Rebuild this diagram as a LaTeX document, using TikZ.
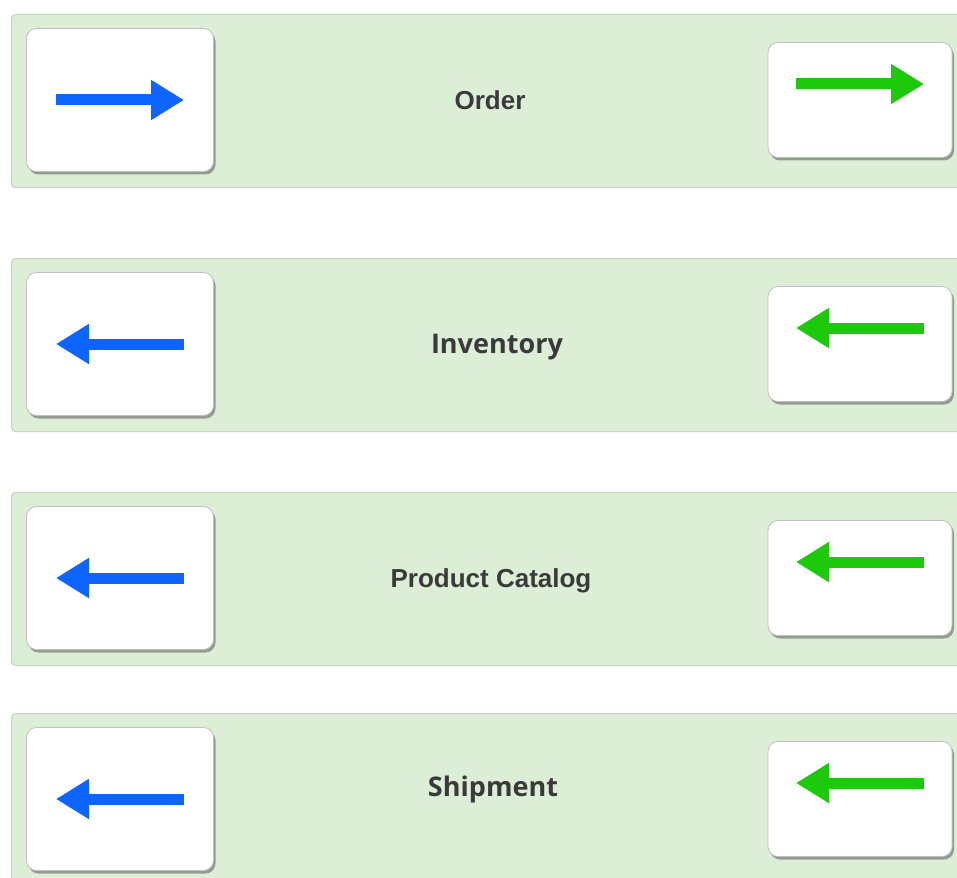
\documentclass[tikz,border=0pt]{standalone}
\usepackage{fontspec}
\setmainfont{Liberation Sans}
\newfontfamily\opensans{Open Sans}[Scale=1.04]
\usepackage{tikz}
\usetikzlibrary{arrows.meta}
\usetikzlibrary{shadows}
\usetikzlibrary{calc}
\definecolor{bandgreen}{HTML}{DDEED7}
\definecolor{bandline}{HTML}{C6D3C2}
\definecolor{keyblue}{HTML}{0D64FF}
\definecolor{keygreen}{HTML}{1DC90B}
\definecolor{labelgray}{HTML}{3A3A3A}
\tikzset{band/.style={draw=bandline,
                      fill=bandgreen,
                      line width=1pt,
                      rounded corners=4pt,
                      anchor=north west,
                      minimum width=975pt,
                      minimum height=173pt,
                      inner sep=0pt}}
\tikzset{key/.style={draw=black!25,
                     fill=white,
                     line width=0.8pt,
                     rounded corners=10pt,
                     inner sep=0pt,
                     drop shadow={shadow xshift=2pt,shadow yshift=-3pt,fill=black!70}}}
\tikzset{bandlabel/.style={text=labelgray,font=\fontsize{26}{30}\selectfont\bfseries}}

\begin{document}
\begin{tikzpicture}
    [
      x=1pt, y=-1pt,
      leftkey/.style  = {key, minimum width=187pt, minimum height=143pt},
      rightkey/.style = {key, minimum width=184pt, minimum height=115pt},
      bluearrow/.style  = {draw=keyblue, line width=11pt, -{Triangle[length=33pt,width=38pt]}},
      greenarrow/.style = {draw=keygreen, line width=11pt, -{Triangle[length=33pt,width=38pt]}},
    ]
    \useasboundingbox (0,0) rectangle (957,877);
    \clip (0,0) rectangle (957,877);

    % one band for each service
    \foreach \i/\y/\dir/\lx/\ly/\txt in {1/14/1/490/86/{Order},
                                         2/258/-1/497/89/{\opensans Inventory},
                                         3/492/-1/491/89/{Product Catalog},
                                         4/713/-1/493/76/{\opensans Shipment}}
    {
      \node [band] (band\i) at (11,\y) {};

      % keys
      \node [leftkey]  (lk\i) at (120,\y+86) {};
      \node [rightkey] (rk\i) at (860,\y+86) {};

      % label
      \node [bandlabel] (lab\i) at (\lx,\y+\ly) {\txt};

      % arrows
      \path (lk\i.center) ++(-64*\dir,0) coordinate (lkt\i) ++(128*\dir,0) coordinate (lkh\i);
      \path (rk\i.center) ++(-64*\dir,-16) coordinate (rkt\i) ++(128*\dir,0) coordinate (rkh\i);
      \draw [bluearrow]  (lkt\i) -- (lkh\i);
      \draw [greenarrow] (rkt\i) -- (rkh\i);
    }

  \end{tikzpicture}
\end{document}
